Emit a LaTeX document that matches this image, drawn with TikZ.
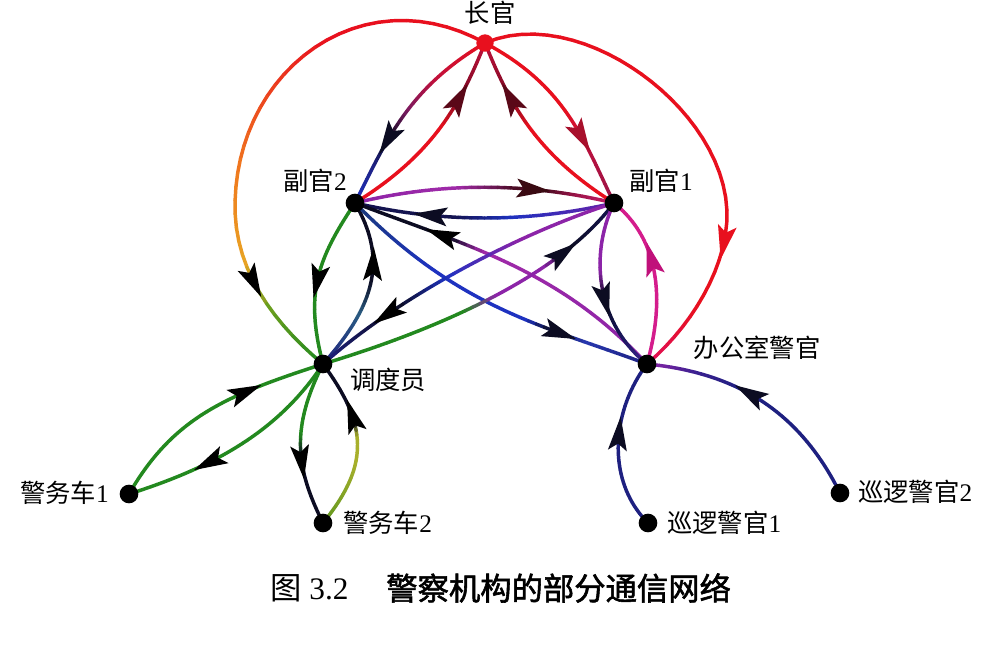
\documentclass[tikz,border=0pt]{standalone}
\usepackage{fontspec}
\setmainfont{Liberation Serif}
\newfontfamily\cjk{Noto Sans CJK SC}
\newfontfamily\cjkb[FakeBold=1.8]{Noto Sans CJK SC}
\usetikzlibrary{decorations.markings}
\pgfdeclarelayer{back}
\pgfdeclarelayer{edges}
\pgfsetlayers{back,edges,main}

\definecolor{cRed}{HTML}{E8101E}
\definecolor{cCrimson}{HTML}{C0103C}
\definecolor{cPlum}{HTML}{7A1A60}
\definecolor{cInk}{HTML}{0C0C22}
\definecolor{cNavy}{HTML}{1E2080}
\definecolor{cNavyD}{HTML}{141450}
\definecolor{cBlue}{HTML}{1E32C0}
\definecolor{cBlueB}{HTML}{2838B0}
\definecolor{cNavyT}{HTML}{1A3A78}
\definecolor{cMaroon}{HTML}{7A0A22}
\definecolor{cMaroonD}{HTML}{5A0818}
\definecolor{cCrimsonD}{HTML}{A8102C}
\definecolor{cWine}{HTML}{9A1448}
\definecolor{cWineD}{HTML}{4A0C22}
\definecolor{cWineDD}{HTML}{3A0A12}
\definecolor{cRose}{HTML}{C81C6A}
\definecolor{cPinkRed}{HTML}{E01058}
\definecolor{cPurple}{HTML}{8C24A8}
\definecolor{cViolet}{HTML}{A02AA8}
\definecolor{cPurpleBlue}{HTML}{6A22A8}
\definecolor{cTeal}{HTML}{2A5C82}
\definecolor{cGreen}{HTML}{23891F}
\definecolor{cLime}{HTML}{6A9E1E}
\definecolor{cAmber}{HTML}{E8A424}
\definecolor{cOrange}{HTML}{F07A1E}
\definecolor{cOlive}{HTML}{5E961E}
\definecolor{cYellowGreen}{HTML}{A8B02C}
\definecolor{cIndigo}{HTML}{3A2090}
\definecolor{cMagenta}{HTML}{D41C8C}
\definecolor{cMagentaD}{HTML}{C0107A}

\newcommand\lblfont{\fontsize{19pt}{19pt}\selectfont}
\newcommand\capfont{\fontsize{23.5pt}{23.5pt}\selectfont}

\newcount\gpcount

% colour at position #1 along stops #2 (list of pos/colour)
\newcommand\gcolorat[2]{%
  \gdef\gprevs{0}\gdef\gprevc{black}\gdef\gca{black}\gdef\gcb{black}\gdef\gq{0}%
  \foreach \sts/\stc in {#2} {%
    \pgfmathtruncatemacro\okk{and(#1>\gprevs,#1<\sts+0.00001)}%
    \ifnum\okk=1
      \pgfmathtruncatemacro\qq{100*(#1-\gprevs)/(\sts-\gprevs)}%
      \xdef\gca{\gprevc}\xdef\gcb{\stc}\xdef\gq{\qq}%
    \fi
    \xdef\gprevs{\sts}\xdef\gprevc{\stc}%
  }%
  \colorlet{segc}{\gcb!\gq!\gca}%
}

% #1 from, #2 path middle, #3 to, #4 colour stops, #5 arrow position, #6 arrow colour
\newcommand\gedge[6]{%
  \global\gpcount=0
  \path[decoration={markings, mark=between positions 0 and 1 step 0.025 with {\global\advance\gpcount by 1 \coordinate (gp\the\gpcount);}}, decorate] (#1.center) #2 (#3.center);
  \foreach \i in {1,...,40} {%
    \pgfmathsetmacro\tpos{(\i-0.5)/40}%
    \gcolorat{\tpos}{#4}%
    \pgfmathtruncatemacro\jn{\i+1}%
    \ifnum\i<40 \draw[edgeline, draw=segc] (gp\i) -- (gp\jn);%
    \else \draw[edgeline, draw=segc] (gp\i) -- (#3.center);\fi
  }%
  \path[decoration={markings, mark=at position #5 with {\fill[#6] (19,0) -- (-15,9.5) -- (-8,0) -- (-15,-9.5) -- cycle;}}, decorate] (#1.center) #2 (#3.center);
}

\tikzset{
  edgeline/.style={line width=2.6pt, line cap=round},
  dot/.style={circle, fill=black, inner sep=0pt, minimum size=14pt},
  lbl/.style={font=\lblfont, inner sep=0pt, text=black},
}

\begin{document}
\begin{tikzpicture}[x=0.75pt,y=-0.75pt]
\useasboundingbox (0,0) rectangle (1002,655);
\begin{pgfonlayer}{back}
\fill[white] (0,0) rectangle (1002,655);
\end{pgfonlayer}

% vertices
\node[dot, fill=cRed, minimum size=13pt] (C) at (485,43) {};
\node[dot] (D2) at (355,203) {};
\node[dot] (D1) at (614,203) {};
\node[dot] (Disp) at (323,364) {};
\node[dot] (Off) at (647,364) {};
\node[dot] (V1) at (129,494) {};
\node[dot] (V2) at (323,523) {};
\node[dot] (P1) at (648,523) {};
\node[dot] (P2) at (840,493) {};

% labels
\node[lbl] (lC) at (490,13) {{\cjk 长官}};
\node[lbl] (lD2) at (315,181) {{\cjk 副官}2};
\node[lbl] (lD1) at (661,181) {{\cjk 副官}1};
\node[lbl, anchor=west] (lDisp) at (350,380) {{\cjk 调度员}};
\node[lbl] (lOff) at (757,348) {{\cjk 办公室警官}};
\node[lbl, anchor=east] (lV1) at (109,493) {{\cjk 警务车}1};
\node[lbl, anchor=west] (lV2) at (343,523) {{\cjk 警务车}2};
\node[lbl, anchor=west] (lP1) at (667,523) {{\cjk 巡逻警官}1};
\node[lbl, anchor=west] (lP2) at (858,492) {{\cjk 巡逻警官}2};

% caption
\node[anchor=west, font=\capfont, inner sep=0pt] (cap1) at (270,588) {{\cjk 图} 3.2};
\node[anchor=west, font=\capfont, inner sep=0pt] (cap2) at (386,588) {{\cjkb 警察机构的部分通信网络}};

\begin{pgfonlayer}{edges}
% chief -> dispatcher (big left arc)
\gedge{C}{.. controls (362,-25) and (235,70) .. (235,207) .. controls (235,257) and (259,311) ..}{Disp}
  {0/cRed,0.3/cRed,0.6/cOrange,0.77/cAmber,0.86/cLime,1/cGreen}{0.8}{black}
% chief -> office (big right arc)
\gedge{C}{.. controls (580,2) and (727,110) .. (727,215) .. controls (727,265) and (694,324) ..}{Off}
  {0/cRed,0.85/cRed,1/cPinkRed}{0.71}{cRed}
% chief <-> deputies
\gedge{C}{.. controls (408.5,88) and (386.5,140) ..}{D2}
  {0/cRed,0.3/cCrimson,0.5/cPlum,0.65/cInk,0.8/cNavy,1/cBlue}{0.65}{cInk}
\gedge{D2}{.. controls (431.5,155.3) and (459,108) ..}{C}
  {0/cRed,0.55/cRed,0.72/cMaroon,1/cCrimson}{0.7}{cMaroonD}
\gedge{C}{.. controls (566,86) and (583.5,140) ..}{D1}
  {0/cRed,0.5/cRed,0.66/cCrimson,1/cWine}{0.64}{cCrimsonD}
\gedge{D1}{.. controls (538.5,155.3) and (511,108) ..}{C}
  {0/cRed,0.55/cRed,0.72/cMaroon,1/cCrimson}{0.7}{cMaroonD}
% deputy2 <-> deputy1
\gedge{D2}{.. controls (441,182) and (527,182) ..}{D1}
  {0/cPurple,0.4/cViolet,0.62/cWineD,0.74/cWineD,0.85/cWine,1/cRose}{0.68}{cWineDD}
\gedge{D1}{.. controls (528,223) and (442,223) ..}{D2}
  {0/cPurpleBlue,0.4/cBlue,0.62/cNavyD,1/cNavyD}{0.7}{cInk}
% deputy2 <-> dispatcher
\gedge{D2}{.. controls (316,261) and (305,295) ..}{Disp}
  {0/cGreen,1/cGreen}{0.5}{black}
\gedge{Disp}{.. controls (380,300) and (385,255) ..}{D2}
  {0/cNavy,0.35/cTeal,0.55/cInk,1/cInk}{0.63}{black}
% deputy2 <-> office
\gedge{D2}{.. controls (460,310) and (545,326) ..}{Off}
  {0/cNavyT,0.3/cBlue,0.62/cBlue,0.7/cInk,0.8/cBlueB,1/cNavy}{0.72}{cInk}
\gedge{Off}{.. controls (558.6,269) and (467.6,246) ..}{D2}
  {0/cPurple,0.6/cViolet,0.7/cInk,1/cInk}{0.72}{black}
% deputy1 <-> dispatcher
\gedge{D1}{.. controls (519,233) and (398,297) ..}{Disp}
  {0/cPurple,0.3/cPurple,0.55/cBlue,0.72/cInk,1/cNavy}{0.75}{black}
\gedge{Disp}{.. controls (419,335) and (554,283) ..}{D1}
  {0/cGreen,0.45/cGreen,0.55/cPurple,0.72/cPurple,0.8/cInk,1/cNavyD}{0.78}{cInk}
% deputy1 <-> office
\gedge{D1}{.. controls (588,257) and (598,325) ..}{Off}
  {0/cPurple,0.4/cPurple,0.55/cInk,0.75/cNavyD,1/cIndigo}{0.55}{cInk}
\gedge{Off}{.. controls (665,300) and (660,240) ..}{D1}
  {0/cMagenta,1/cMagenta}{0.6}{cMagentaD}
% patrol officers -> office
\gedge{P2}{.. controls (799.5,412) and (738,373) ..}{Off}
  {0/cNavy,0.6/cNavy,0.8/cIndigo,1/cPurple}{0.55}{cInk}
\gedge{P1}{.. controls (605,480) and (612,410) ..}{Off}
  {0/cNavy,1/cNavy}{0.55}{cInk}
% cars <-> dispatcher
\gedge{V1}{.. controls (174,416) and (228,395) ..}{Disp}
  {0/cGreen,1/cGreen}{0.65}{black}
\gedge{Disp}{.. controls (279,431) and (214.5,467) ..}{V1}
  {0/cGreen,1/cGreen}{0.63}{black}
\gedge{Disp}{.. controls (290,429) and (296,469) ..}{V2}
  {0/cGreen,0.45/cGreen,0.58/cInk,1/cInk}{0.6}{black}
\gedge{V2}{.. controls (370,465) and (368,425) ..}{Disp}
  {0/cOlive,0.4/cYellowGreen,0.55/cYellowGreen,0.63/cInk,1/cInk}{0.65}{black}
\end{pgfonlayer}
\end{tikzpicture}
\end{document}
